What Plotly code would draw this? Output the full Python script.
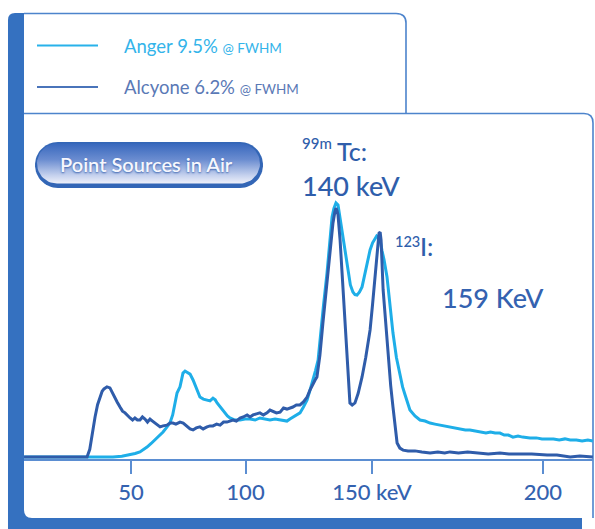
import numpy as np
import plotly.graph_objects as go

# ---------------- data ----------------
ang_kev = [3.3, 42.1, 46.0, 49.6, 51.8, 53.9, 55.5, 57.0, 58.8, 60.5, 62.2, 64.0, 65.5, 67.0, 68.2, 69.2,
           70.1, 71.4, 72.7, 73.6, 74.5, 75.8, 77.1, 78.8, 80.1, 81.6, 83.2, 84.5, 85.8, 86.8, 87.6, 88.9,
           90.0, 91.0, 92.1, 93.2, 95.4, 97.6, 99.8, 102.0, 104.2, 106.3, 108.5, 110.7, 112.9, 115.1, 116.6,
           118.1, 119.4, 120.7, 122.2, 123.8, 125.3, 126.9, 128.2, 129.5, 130.6, 131.7, 132.5, 134.0, 135.6,
           136.7, 137.8, 138.6, 139.5, 140.4, 141.2, 142.1, 143.4, 144.8, 145.8, 146.9, 147.8, 148.7, 149.8,
           150.9, 152.0, 153.1, 154.4, 155.5, 156.6, 157.3, 157.9, 158.8, 159.6, 160.5, 161.8, 163.1, 164.4,
           165.9, 167.5, 168.6, 169.7, 170.7, 171.8, 174.0, 176.2, 178.4, 180.6, 182.7, 184.9, 187.0, 189.3,
           191.5, 193.7, 196.0, 198.0, 200.2, 202.4, 205.0, 207.0, 209.0, 211.1, 213.0, 214.8, 216.8, 219.0,
           221.0, 224.2, 227.0, 229.5, 231.7, 234.5, 237.0, 239.5, 241.8, 244.5, 247.0, 249.5, 251.7]
ang_counts = [0, 0, 0.3, 0.8, 1.4, 2.0, 2.9, 3.9, 5.3, 6.7, 8.2, 9.8, 11.5, 13.3, 16.5, 20.4,
              25.1, 27.5, 32.9, 33.7, 33.3, 32.5, 30.2, 26.3, 23.5, 22.7, 22.4, 22.0, 23.1, 22.4, 21.2, 19.6,
              18.4, 17.3, 16.1, 15.3, 14.5, 14.5, 14.9, 14.9, 14.5, 15.3, 14.9, 14.5, 14.9, 14.5, 14.1,
              14.1, 14.9, 15.7, 16.5, 17.3, 19.6, 22.4, 26.3, 30.2, 34.0, 38.0, 45.9, 59.0, 72.2,
              84.0, 94.1, 97.5, 99.6, 98.8, 94.0, 89.0, 80.0, 72.2, 67.5, 64.7, 63.7, 63.5, 64.7,
              66.7, 71.0, 75.3, 81.2, 84.0, 85.9, 86.7, 86.3, 85.1, 81.0, 77.3, 70.6, 59.0, 48.6,
              39.0, 31.4, 27.5, 24.3, 21.2, 18.4, 16.1, 14.5, 14.1, 13.3, 12.9, 12.5, 12.2, 11.8,
              11.4, 11.0, 10.6, 10.6, 10.2, 9.8, 9.4, 9.8, 9.4, 9.4, 8.6, 8.6, 7.8, 8.2,
              7.8, 7.5, 7.5, 7.1, 7.1, 7.1, 6.7, 7.1, 6.7, 6.7, 6.3, 6.7, 6.3]

alc_kev = [3.3, 30.8, 32.0, 33.2, 34.3, 35.4, 36.5, 37.4, 38.2, 39.5, 40.8, 41.5, 42.1, 43.0, 44.0, 45.2,
           46.3, 47.4, 48.5, 49.6, 50.7, 51.7, 52.8, 53.9, 55.0, 56.1, 57.2, 58.3, 59.4, 60.5, 61.6, 62.7,
           64.0, 65.7, 67.0, 68.3, 69.6, 71.4, 72.8, 74.5, 75.8, 77.1, 78.5, 80.1, 81.5, 83.2, 84.5, 85.8,
           87.4, 88.9, 90.4, 91.9, 93.2, 94.5, 96.0, 97.6, 99.0, 100.7, 102.0, 103.3, 104.8, 106.3, 107.8,
           109.4, 110.7, 112.0, 113.5, 115.1, 116.6, 118.1, 119.4, 120.7, 122.2, 123.8, 125.3, 126.9, 128.2,
           129.5, 130.4, 131.2, 132.5, 133.8, 135.0, 136.0, 137.0, 138.2, 139.0, 139.5, 140.0, 140.4, 141.3,
           142.4, 143.4, 144.2, 144.8, 145.3, 145.6, 146.6, 147.8, 149.2, 150.9, 152.5, 154.4, 155.5, 156.6,
           157.5, 158.3, 158.8, 159.2, 160.1, 161.2, 162.2, 163.4, 164.4, 165.3, 166.2, 167.4, 168.8, 171.0,
           174.0, 177.0, 180.6, 184.0, 187.0, 189.3, 193.0, 197.0, 202.4, 206.0, 211.1, 215.0, 219.9, 225.0,
           231.7, 236.0, 241.8, 246.0, 251.7]
alc_counts = [0, 0, 3.0, 10.0, 15.7, 20.5, 23.5, 25.8, 26.7, 27.5, 27.1, 25.8, 25.1, 22.9, 21.5, 19.6,
              18.0, 17.3, 16.1, 15.3, 14.5, 15.3, 14.5, 14.5, 15.7, 14.9, 13.7, 14.9, 14.1, 13.3, 12.5, 11.8,
              12.2, 12.5, 13.3, 13.3, 12.9, 13.7, 13.3, 12.2, 11.0, 10.6, 11.4, 11.8, 11.0, 11.8, 12.2, 12.2,
              12.9, 12.5, 13.7, 13.7, 14.1, 14.5, 14.1, 15.3, 15.7, 16.5, 15.7, 16.5, 16.9, 17.3, 16.5,
              17.3, 18.4, 18.0, 17.3, 17.6, 19.2, 18.8, 19.2, 19.6, 20.4, 20.4, 21.6, 23.5, 26.3,
              29.0, 30.2, 31.4, 40.0, 52.5, 63.0, 72.2, 82.0, 91.8, 96.0, 97.6, 96.5, 94.9, 85.1,
              68.0, 52.5, 40.0, 34.1, 26.0, 21.2, 20.4, 21.2, 25.0, 31.4, 39.0, 49.8, 60.0, 72.2,
              81.0, 87.8, 88.2, 85.1, 65.5, 52.0, 39.2, 28.0, 19.6, 11.0, 5.5, 3.5, 2.7, 2.4,
              2.4, 2.0, 1.6, 2.0, 1.6, 2.0, 1.6, 2.0, 1.6, 1.2, 1.6, 1.2, 1.2, 1.2,
              0.8, 0.8, 0.0, 0.4, 0.0]

tick_pos = [50, 100, 155.2, 229.9]
tick_text = ["50", "100", "150 keV", "200"]

series_names = ["Anger 9.5%", "Alcyone 6.2%"]
ANGER_COL = "#1eaee8"
ALC_COL = "#2f5caa"
FRAME = "#3571c0"
BORDER = "#4d84cc"
TXT = "#2f5eab"

# ---------------- geometry helpers (decoration, pixel -> paper) ----------------
W, H = 595, 529
L, R, T, B = 24, 2, 113, 70
PW, PH = W - L - R, H - T - B


def px(x):
    return (x - L) / PW


def py(y):
    return (H - B - y) / PH


def path(cmds):
    out = []
    for c in cmds:
        if c[0] in "ML":
            out.append(f"{c[0]}{px(c[1]):.5f},{py(c[2]):.5f}")
        elif c[0] == "Q":
            out.append(f"Q{px(c[1]):.5f},{py(c[2]):.5f} {px(c[3]):.5f},{py(c[4]):.5f}")
        elif c[0] == "Z":
            out.append("Z")
    return " ".join(out)


fig = go.Figure()

fig.add_trace(go.Scatter(x=ang_kev, y=ang_counts, mode="lines", name=series_names[0],
                         line=dict(color=ANGER_COL, width=3), hoverinfo="skip"))
fig.add_trace(go.Scatter(x=alc_kev, y=alc_counts, mode="lines", name=series_names[1],
                         line=dict(color=ALC_COL, width=3), hoverinfo="skip"))

# pill "Point Sources in Air" on an overlay pixel axis
def pill(x0, x1, y0, y1):
    r = (y1 - y0) / 2
    cy = (y0 + y1) / 2
    a = np.linspace(-np.pi / 2, np.pi / 2, 30)
    xs = list(x1 - r + r * np.cos(a)) + list(x0 + r - r * np.cos(a))
    ys = list(cy + r * np.sin(a)) + list(cy - r * np.sin(a))
    return xs + [xs[0]], ys + [ys[0]]

ox, oy = pill(35, 263, 142, 188)
fig.add_trace(go.Scatter(x=ox, y=oy, xaxis="x2", yaxis="y2", mode="lines", fill="toself",
                         fillcolor="#3366b6", line=dict(width=0), hoverinfo="skip"))
ix, iy = pill(37, 260, 143.5, 183.5)
fig.add_trace(go.Scatter(x=ix, y=iy, xaxis="x2", yaxis="y2", mode="lines", fill="toself",
                         fillgradient=dict(type="vertical", start=143.5, stop=183.5,
                                           colorscale=[[0, "#3868bd"], [0.4, "#6a8cd0"], [0.8, "#c6d2ee"],
                                                       [1, "#eef0fa"]]),
                         line=dict(width=0), hoverinfo="skip"))

shapes = [
    dict(type="path", xref="paper", yref="paper", layer="below", fillcolor=FRAME, line=dict(width=0),
         path=path([("M", 8, 529), ("L", 8, 20), ("Q", 8, 13, 15, 13), ("L", 24, 13), ("L", 24, 529), ("Z",)])),
    dict(type="path", xref="paper", yref="paper", layer="below", fillcolor=FRAME, line=dict(width=0),
         path=path([("M", 8, 518), ("L", 582, 518), ("L", 582, 529), ("L", 8, 529), ("Z",)])),
    dict(type="path", xref="paper", yref="paper", layer="below", fillcolor=FRAME, line=dict(width=0),
         path=path([("M", 24, 510), ("Q", 24, 518, 32, 518), ("L", 24, 518), ("Z",)])),
    dict(type="path", xref="paper", yref="paper", layer="below", line=dict(color=BORDER, width=1.6),
         path=path([("M", 24, 13.5), ("L", 396, 13.5), ("Q", 406, 13.5, 406, 23), ("L", 406, 113)])),
    dict(type="path", xref="paper", yref="paper", layer="below", line=dict(color=BORDER, width=1.6),
         path=path([("M", 24, 113.5), ("L", 584, 113.5), ("Q", 593, 113.5, 593, 123), ("L", 593, 518)])),
    dict(type="line", xref="paper", yref="paper", x0=px(37), x1=px(98), y0=py(45.5), y1=py(45.5),
         line=dict(color="#28b2ea", width=2.2)),
    dict(type="line", xref="paper", yref="paper", x0=px(37), x1=px(98), y0=py(87), y1=py(87),
         line=dict(color="#4a74ba", width=2.2)),
]

FONT = "Lato"
annotations = [
    dict(x=px(122), y=py(46), xref="paper", yref="paper", xanchor="left", yanchor="middle", showarrow=False,
         text=series_names[0] + " <span style='font-size:13.5px'>@ FWHM</span>",
         font=dict(family=FONT, size=18.5, weight=400, color="#33b4ea")),
    dict(x=px(122), y=py(87), xref="paper", yref="paper", xanchor="left", yanchor="middle", showarrow=False,
         text=series_names[1] + " <span style='font-size:13.5px'>@ FWHM</span>",
         font=dict(family=FONT, size=18.5, weight=400, color="#5a79b6")),
    dict(x=px(146), y=py(164), xref="paper", yref="paper", xanchor="center", yanchor="middle", showarrow=False,
         text="Point Sources in Air",
         font=dict(family=FONT, size=20, weight=600, color="#f6f7fd", shadow="0px 1px 2px #3a62ad")),
    dict(x=px(300), y=py(143), xref="paper", yref="paper", xanchor="left", yanchor="middle", showarrow=False,
         text="99m", font=dict(family=FONT, size=15, weight=500, color=TXT)),
    dict(x=px(335), y=py(151), xref="paper", yref="paper", xanchor="left", yanchor="middle", showarrow=False,
         text="Tc:", font=dict(family=FONT, size=25, weight=500, color=TXT)),
    dict(x=px(300), y=py(185), xref="paper", yref="paper", xanchor="left", yanchor="middle", showarrow=False,
         text="140 keV", font=dict(family=FONT, size=27, weight=500, color=TXT)),
    dict(x=px(393), y=py(241), xref="paper", yref="paper", xanchor="left", yanchor="middle", showarrow=False,
         text="123", font=dict(family=FONT, size=14.5, weight=500, color=TXT)),
    dict(x=px(418), y=py(246), xref="paper", yref="paper", xanchor="left", yanchor="middle", showarrow=False,
         text="I:", font=dict(family=FONT, size=25, weight=500, color=TXT)),
    dict(x=px(440), y=py(297), xref="paper", yref="paper", xanchor="left", yanchor="middle", showarrow=False,
         text="159 KeV", font=dict(family=FONT, size=27, weight=500, color="#3462b0")),
]

x_lo = (L - 16.5) / 2.29
x_hi = (W - R - 16.5) / 2.29
y_lo = (457 - (H - B)) / 2.55
y_hi = (457 - T) / 2.55

fig.update_layout(
    width=W, height=H,
    margin=dict(l=L, r=R, t=T, b=B, pad=0),
    paper_bgcolor="white", plot_bgcolor="rgba(0,0,0,0)",
    showlegend=False,
    shapes=shapes, annotations=annotations,
    xaxis=dict(range=[x_lo, x_hi], showgrid=False, zeroline=False, showline=True, linecolor="#5b8ed2",
               linewidth=1.6, ticks="outside", ticklen=13, tickwidth=1.6, tickcolor="#5b8ed2",
               tickvals=tick_pos, ticktext=tick_text,
               tickfont=dict(family=FONT, size=22, weight=500, color="#3462b0"),
               fixedrange=True),
    yaxis=dict(range=[y_lo, y_hi], visible=False, fixedrange=True),
    xaxis2=dict(range=[L, W - R], overlaying="x", visible=False, fixedrange=True),
    yaxis2=dict(range=[H - B, T], overlaying="y", visible=False, fixedrange=True),
)

fig.write_html("out.html")
